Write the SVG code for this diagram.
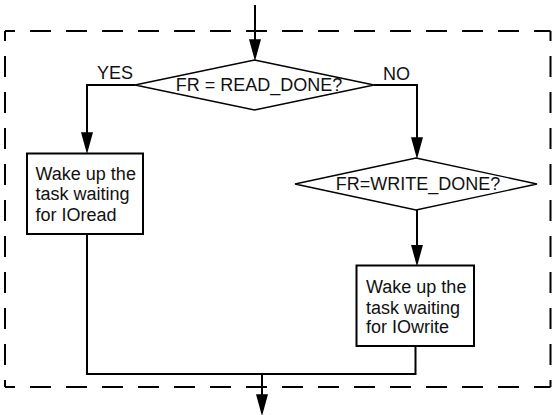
<svg xmlns="http://www.w3.org/2000/svg" width="554" height="415" viewBox="0 0 554 415">
<style>
text{font-family:"Liberation Sans",Arial,sans-serif;font-size:18px;fill:#111}
.dash{fill:none;stroke:#000;stroke-width:2;stroke-dasharray:21 15;stroke-dashoffset:11}
.conn{fill:none;stroke:#000;stroke-width:2}
.dia{fill:#fff;stroke:#000;stroke-width:1.3}
.box{fill:#fff;stroke:#000;stroke-width:2}
.mid{text-anchor:middle}
</style>
<defs>
<marker id="arr" markerUnits="userSpaceOnUse" markerWidth="22" markerHeight="12" viewBox="0 0 20 11" refX="8" refY="5.5" orient="auto">
<path d="M0,0 L20,5.5 L0,11 z" fill="#000"/>
</marker>
</defs>
<g id="boundary">
<path class="dash" d="M5,31 H550.5"/>
<path class="dash" d="M550.5,31 V387"/>
<path class="dash" d="M5,387 H550.5"/>
<path class="dash" d="M5,31 V387"/>
</g>
<g id="connectors">
<path class="conn" d="M255,5 V48" marker-end="url(#arr)"/>
<path class="conn" d="M135,85 H87 V141" marker-end="url(#arr)"/>
<path class="conn" d="M374,85 H417 V146" marker-end="url(#arr)"/>
<path class="conn" d="M417,210 V253.5" marker-end="url(#arr)"/>
<path class="conn" d="M87,234 V374 H415.5 V346"/>
<path class="conn" d="M262,374 V403" marker-end="url(#arr)"/>
<text x="97" y="79">YES</text>
<text x="383" y="80">NO</text>
</g>
<g id="decision1">
<polygon class="dia" points="254.5,60 374,85 254.5,110 135,85"/>
<text class="mid" x="259" y="91">FR = READ_DONE?</text>
</g>
<g id="decision2">
<polygon class="dia" points="416,158 537,184 416,210 295,184"/>
<text class="mid" x="418" y="190">FR=WRITE_DONE?</text>
</g>
<g id="wakeRead">
<rect class="box" x="27" y="153.5" width="116" height="80.5"/>
<text x="35.5" y="179.5">Wake up the</text>
<text x="35.5" y="200">task waiting</text>
<text x="35.5" y="220.5">for IOread</text>
</g>
<g id="wakeWrite">
<rect class="box" x="356.5" y="265.5" width="117.5" height="80.5"/>
<text x="366" y="293">Wake up the</text>
<text x="366" y="313.5">task waiting</text>
<text x="366" y="333">for IOwrite</text>
</g>
</svg>
